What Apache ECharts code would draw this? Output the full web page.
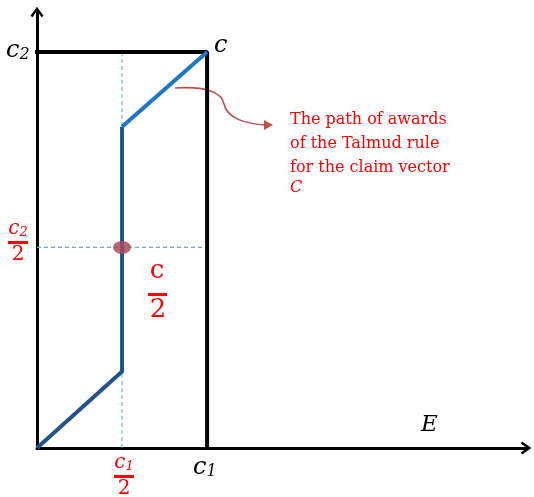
<!DOCTYPE html>
<html>
<head>
<meta charset="UTF-8">
<title>Talmud rule path</title>
<script src="https://cdn.jsdelivr.net/npm/echarts@6/dist/echarts.min.js"></script>
<style>
  html, body { margin: 0; padding: 0; background: #fff; }
  #main { width: 534px; height: 497px; }
</style>
</head>
<body>
<div id="main"></div>
<script type="text/javascript">
  // axis extent (same unit on both axes)
  var xMax = 5.75;
  var yMax = 5.13;

  // claims box: top edge then right edge, c = (c1, c2)
  var boxX = [0, 2, 2];
  var boxY = [4.66, 4.66, 0];

  // path of awards, lower (dark) part and upper (light) part
  var pathLowX = [0, 1, 1];
  var pathLowY = [0, 0.9, 3.78];
  var pathHighX = [1, 2];
  var pathHighY = [3.78, 4.66];

  // guides at c1/2 and c2/2
  var guideVX = [1, 1];
  var guideVY = [0, 4.66];
  var guideHX = [0, 2];
  var guideHY = [2.36, 2.36];

  // the point c/2
  var midPoint = [1, 2.36];

  function pairs(xs, ys) {
    var out = [];
    for (var i = 0; i < xs.length; i++) out.push([xs[i], ys[i]]);
    return out;
  }

  var chevron = 'path://M5,0 L10,7 L8.5,8.2 L5,3.2 L1.5,8.2 L0,7 Z';
  var red = '#ff0000';
  var mathFont = '"DejaVu Serif", serif';

  // stacked fraction: numerator, bar, denominator
  function fraction(cx, top, num, sub, size, barW, color) {
    return {
      type: 'group',
      children: [
        { type: 'text', x: cx, y: top, style: {
            text: '{n|' + num + '}{s|' + sub + '}', align: 'center', verticalAlign: 'top',
            rich: {
              n: { font: 'italic ' + size + 'px ' + mathFont, fill: color },
              s: { font: 'italic ' + Math.round(size * 0.65) + 'px ' + mathFont, fill: color, padding: [Math.round(size * 0.35), 0, 0, 0] }
            } } },
        { type: 'rect', shape: { x: cx - barW / 2, y: top + size + 2, width: barW, height: 3 }, style: { fill: color } },
        { type: 'text', x: cx, y: top + size + 6, style: {
            text: '2', align: 'center', verticalAlign: 'top', font: size + 'px ' + mathFont, fill: color } }
      ]
    };
  }

  var myChart = echarts.init(document.getElementById('main'));

  var option = {
    animation: false,
    grid: { left: 37, right: 8, top: 12, bottom: 49 },
    xAxis: {
      type: 'value', min: 0, max: xMax,
      axisLine: { lineStyle: { color: '#000', width: 3 }, symbol: ['none', chevron], symbolSize: [13, 12] },
      axisTick: { show: false }, axisLabel: { show: false }, splitLine: { show: false }
    },
    yAxis: {
      type: 'value', min: 0, max: yMax,
      axisLine: { lineStyle: { color: '#000', width: 3 }, symbol: ['none', chevron], symbolSize: [13, 12] },
      axisTick: { show: false }, axisLabel: { show: false }, splitLine: { show: false }
    },
    series: [
      {
        type: 'line', data: pairs(guideVX, guideVY), symbol: 'none', clip: false,
        lineStyle: { color: '#4bacc6', width: 1, type: [4, 3] }
      },
      {
        type: 'line', data: pairs(guideHX, guideHY), symbol: 'none', clip: false,
        lineStyle: { color: '#6aa0e8', width: 1.2, type: [4, 3] }
      },
      {
        type: 'line', data: pairs(boxX, boxY), symbol: 'none', clip: false,
        lineStyle: { color: '#000', width: 4, cap: 'square' }
      },
      {
        type: 'line', data: pairs(pathLowX, pathLowY), symbol: 'none', clip: false,
        lineStyle: { color: '#24538a', width: 4 }
      },
      {
        type: 'line', data: pairs(pathHighX, pathHighY), symbol: 'none', clip: false,
        lineStyle: { color: '#1f76c6', width: 4 }
      },
      {
        type: 'scatter', data: [midPoint], symbol: 'circle', symbolSize: [18, 13],
        itemStyle: { color: '#a84a5a', opacity: 0.85 }, z: 5
      }
    ],
    graphic: {
      elements: [
        // axis / corner names
        { type: 'text', x: 6, y: 39, style: {
            text: '{n|c}{s|2}', rich: {
              n: { font: 'italic 24px ' + mathFont, fill: '#000' },
              s: { font: 'italic 16px ' + mathFont, fill: '#000', padding: [8, 0, 0, 0] } } } },
        { type: 'text', x: 214, y: 34, style: { text: 'c', font: 'italic 24px ' + mathFont, fill: '#000' } },
        { type: 'text', x: 421, y: 414, style: { text: 'E', font: 'italic 23px ' + mathFont, fill: '#000' } },
        { type: 'text', x: 193, y: 456, style: {
            text: '{n|c}{s|1}', rich: {
              n: { font: 'italic 24px ' + mathFont, fill: '#000' },
              s: { font: 'italic 16px ' + mathFont, fill: '#000', padding: [8, 0, 0, 0] } } } },
        // red fractions
        fraction(124, 453, 'c', '1', 20, 20, red),
        fraction(18, 219, 'c', '2', 20, 20, red),
        { type: 'group', children: [
            { type: 'text', x: 157, y: 258, style: { text: 'c', align: 'center', verticalAlign: 'top', font: '26px ' + mathFont, fill: red } },
            { type: 'rect', shape: { x: 148, y: 293, width: 19, height: 3 }, style: { fill: red } },
            { type: 'text', x: 158, y: 297, style: { text: '2', align: 'center', verticalAlign: 'top', font: '26px ' + mathFont, fill: red } }
        ] },
        // annotation
        { type: 'text', x: 290, y: 108, style: {
            text: 'The path of awards\nof the Talmud rule\nfor the claim vector',
            font: '16px "DejaVu Serif", serif', fill: red, lineHeight: 24 } },
        { type: 'text', x: 290, y: 180, style: { text: 'C', font: 'italic 16px ' + mathFont, fill: red } },
        { type: 'bezierCurve', shape: { x1: 175, y1: 88, cpx1: 205, cpy1: 86, cpx2: 222, cpy2: 92, x2: 224, y2: 104 },
          style: { stroke: '#c0504d', lineWidth: 1.6, fill: null } },
        { type: 'bezierCurve', shape: { x1: 224, y1: 104, cpx1: 227, cpy1: 118, cpx2: 245, cpy2: 124, x2: 266, y2: 125 },
          style: { stroke: '#c0504d', lineWidth: 1.6, fill: null } },
        { type: 'polygon', shape: { points: [[264, 120], [273, 125], [264, 130]] }, style: { fill: '#c0504d' } }
      ]
    }
  };

  myChart.setOption(option);
</script>
</body>
</html>
